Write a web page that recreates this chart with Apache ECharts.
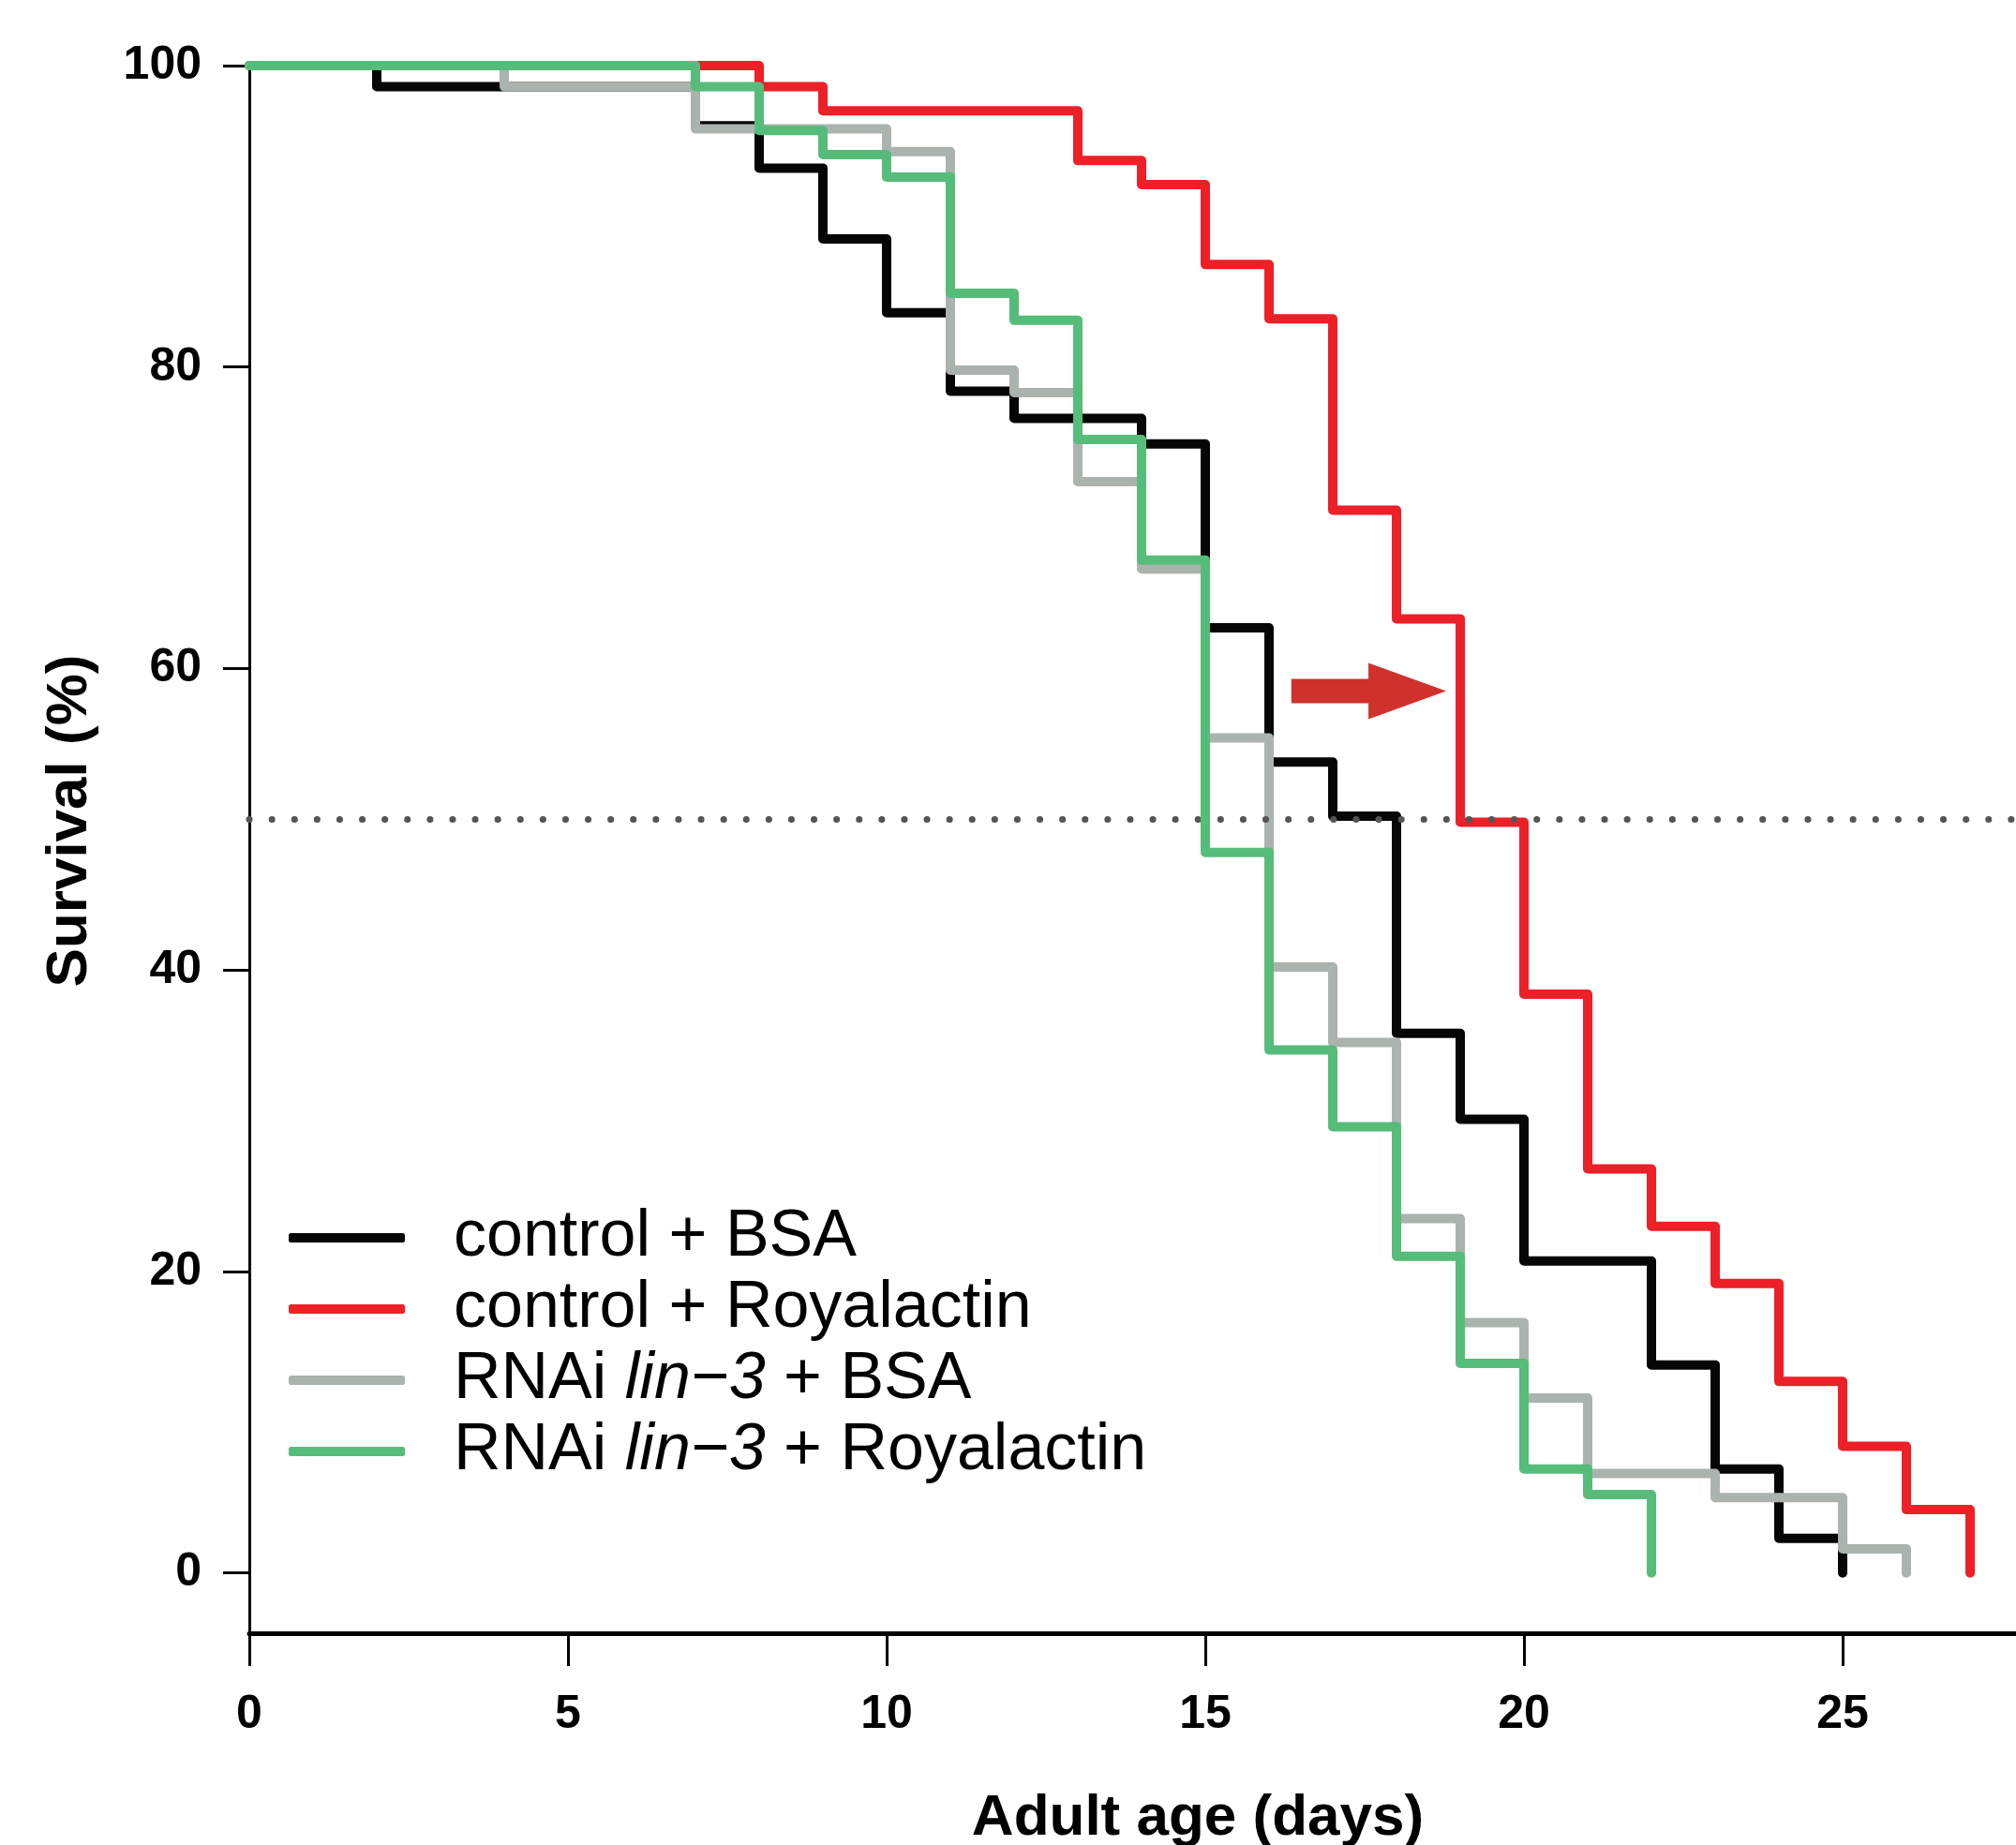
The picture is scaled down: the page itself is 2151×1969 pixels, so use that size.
<!DOCTYPE html>
<html><head><meta charset="utf-8">
<script src="https://cdn.jsdelivr.net/npm/echarts@6/dist/echarts.min.js"></script>
<style>html,body{margin:0;padding:0;background:#fff}#c{width:2151px;height:1969px}</style>
</head><body><div id="c"></div>
<script>
// ---- data ----
const seriesNames = ['control + BSA', 'control + Royalactin', 'RNAi lin\u22123 + BSA', 'RNAi lin\u22123 + Royalactin'];
const blackDays = [0, 2, 7, 8, 9, 10, 11, 12, 14, 15, 16, 17, 18, 19, 20, 22, 23, 24, 25];
const blackSurv = [100, 98.6, 96.0, 93.2, 88.5, 83.6, 78.4, 76.6, 74.9, 62.7, 53.8, 50.2, 35.8, 30.1, 20.7, 13.8, 6.9, 2.3, 0];
const redDays = [0, 8, 9, 13, 14, 15, 16, 17, 18, 19, 20, 21, 22, 23, 24, 25, 26, 27];
const redSurv = [100, 98.6, 97.0, 93.7, 92.1, 86.8, 83.2, 70.5, 63.3, 49.8, 38.4, 26.8, 23.0, 19.2, 12.7, 8.4, 4.2, 0];
const grayDays = [0, 4, 7, 10, 11, 12, 13, 14, 15, 16, 17, 18, 19, 20, 21, 23, 25, 26];
const graySurv = [100, 98.6, 95.8, 94.3, 79.8, 78.3, 72.4, 66.6, 55.4, 40.2, 35.2, 23.5, 16.6, 11.6, 6.6, 5.0, 1.6, 0];
const greenDays = [0, 7, 8, 9, 10, 11, 12, 13, 14, 15, 16, 17, 18, 19, 20, 21, 22];
const greenSurv = [100, 98.6, 95.7, 94.1, 92.6, 84.9, 83.1, 75.2, 67.2, 47.8, 34.7, 29.6, 21.0, 13.9, 6.9, 5.2, 0];
const xTicks = [0, 5, 10, 15, 20, 25];
const yTicks = [0, 20, 40, 60, 80, 100];
const medianLevel = 50;
const arrowData = [[16.35, 18.78, 58.5]]; // [from day, to day, survival level]

// ---- chart ----
const FONT = '"Liberation Sans", Arial, Helvetica, sans-serif';
const colors = ['#060606', '#ED1F27', '#AAB3AD', '#56BC7A'];
const pairs = [[blackDays, blackSurv], [redDays, redSurv], [grayDays, graySurv], [greenDays, greenSurv]];

const stepSeries = pairs.map((p, i) => ({
  name: seriesNames[i],
  type: 'line',
  step: 'end',
  data: p[0].map((d, k) => [d, p[1][k]]),
  showSymbol: false,
  symbol: 'none',
  color: colors[i],
  lineStyle: { color: colors[i], width: 10, cap: 'round', join: 'round' },
  z: 2 + i,
  silent: true
}));

const chart = echarts.init(document.getElementById('c'), null, { renderer: 'canvas' });
chart.setOption({
  animation: false,
  backgroundColor: '#ffffff',
  grid: { left: 266, right: 0, top: 70, bottom: 226 },
  xAxis: {
    type: 'value', min: 0, max: 27.72,
    axisLine: { show: true, onZero: false, lineStyle: { color: '#000', width: 5 } },
    axisTick: { show: true, length: 35, lineStyle: { color: '#000', width: 3 }, customValues: xTicks },
    axisLabel: { show: true, margin: 62, fontSize: 50, fontWeight: 'bold', color: '#000', fontFamily: FONT, customValues: xTicks },
    splitLine: { show: false }
  },
  yAxis: {
    type: 'value', min: -4, max: 100,
    axisLine: { show: true, onZero: false, lineStyle: { color: '#000', width: 3 } },
    axisTick: { show: true, length: 28, lineStyle: { color: '#000', width: 3 }, customValues: yTicks },
    axisLabel: { show: true, margin: 51, fontSize: 50, fontWeight: 'bold', color: '#000', fontFamily: FONT, customValues: yTicks },
    splitLine: { show: false }
  },
  legend: {
    data: seriesNames,
    orient: 'vertical',
    left: 308, top: 1286,
    padding: 0,
    itemGap: 6,
    itemWidth: 124, itemHeight: 10,
    icon: 'roundRect',
    selectedMode: false,
    formatter: n => n.replace('lin\u22123', '{i|lin\u22123}'),
    textStyle: {
      fontSize: 70, fontFamily: FONT, color: '#000', lineHeight: 70, padding: [0, 0, 0, 47],
      rich: { i: { fontSize: 70, fontStyle: 'italic', fontFamily: FONT, color: '#000', lineHeight: 70 } }
    }
  },
  graphic: [
    { type: 'text', x: 1278, y: 1941, style: { text: 'Adult age (days)', font: 'bold 62px ' + FONT, fill: '#000', textAlign: 'center', textVerticalAlign: 'middle' } },
    { type: 'text', x: 75, y: 876, rotation: Math.PI / 2, style: { text: 'Survival (%)', font: 'bold 62px ' + FONT, fill: '#000', textAlign: 'center', textVerticalAlign: 'middle' } }
  ],
  series: stepSeries.concat([
    {
      name: 'median', type: 'line', data: [], z: 20, silent: true,
      markLine: {
        silent: true, symbol: ['none', 'none'], label: { show: false },
        lineStyle: { color: '#555555', width: 7, type: [0.1, 24], cap: 'round' },
        emphasis: { disabled: true },
        data: [{ yAxis: medianLevel }]
      }
    },
    {
      name: 'arrow', type: 'custom', z: 15, silent: true,
      data: arrowData,
      encode: { x: [0, 1], y: 2 },
      renderItem: function (params, api) {
        const p0 = api.coord([api.value(0), api.value(2)]);
        const p1 = api.coord([api.value(1), api.value(2)]);
        const headLen = 83, headHalf = 30, bodyHalf = 13;
        const hx = p1[0] - headLen, y = p0[1];
        return {
          type: 'polygon',
          shape: { points: [[p0[0], y - bodyHalf], [hx, y - bodyHalf], [hx, y - headHalf], [p1[0], y], [hx, y + headHalf], [hx, y + bodyHalf], [p0[0], y + bodyHalf]] },
          style: { fill: '#D0312D' }
        };
      }
    }
  ])
});
</script></body></html>
